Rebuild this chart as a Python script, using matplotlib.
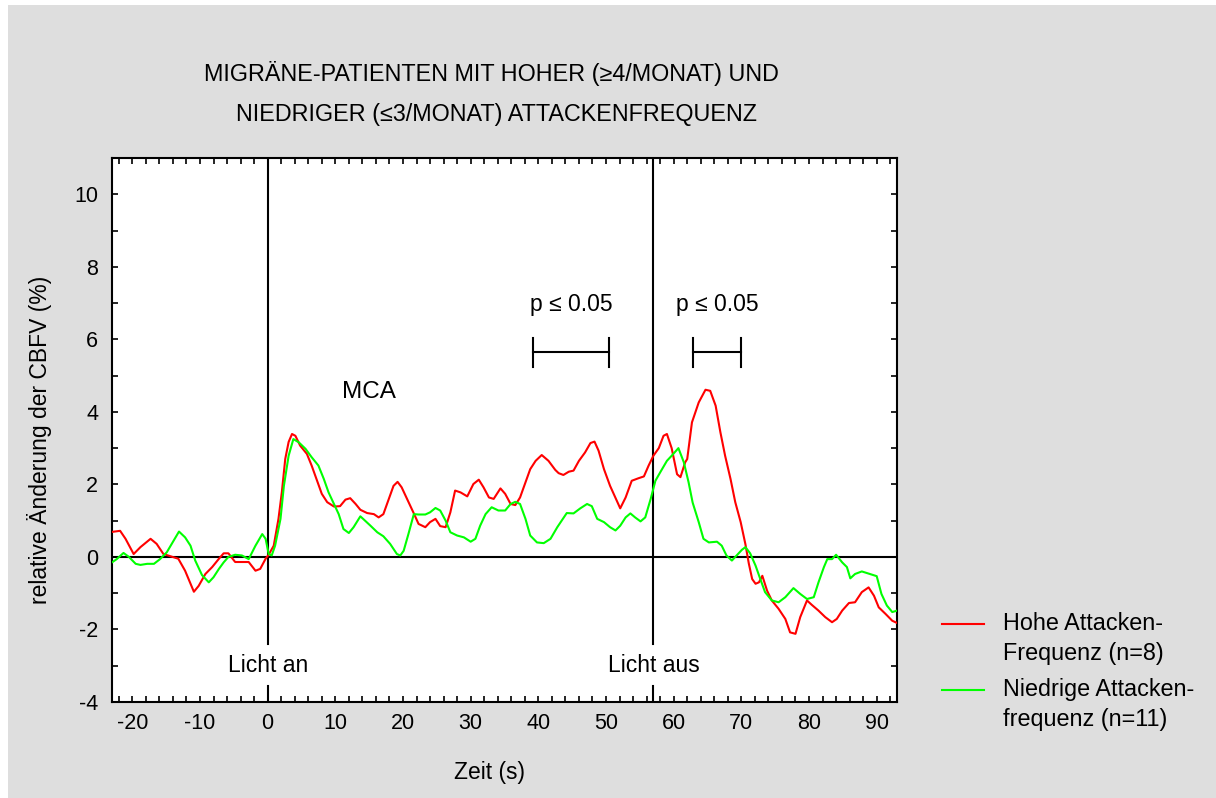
import matplotlib
matplotlib.use("Agg")
import matplotlib.pyplot as plt
from matplotlib.ticker import MultipleLocator
from matplotlib.lines import Line2D
from matplotlib.patches import Rectangle

plt.rcParams['font.family'] = ['Liberation Sans', 'DejaVu Sans']
plt.rcParams['axes.unicode_minus'] = False

# Hohe Attackenfrequenz (n=8)
red_t = [-23.0, -21.8, -21.0, -19.8, -18.8, -17.3, -16.4, -15.4, -14.4, -13.2,
         -12.2, -10.9, -10.2, -9.2, -8.2, -7.2, -6.5, -5.8, -4.8, -3.8,
         -2.8, -1.8, -1.1, -0.3, 0.15, 0.9, 1.6, 2.1, 2.6, 3.1,
         3.6, 4.1, 4.8, 5.8, 6.5, 7.3, 8.0, 8.8, 9.8, 10.7,
         11.5, 12.2, 13.0, 13.7, 14.7, 15.7, 16.4, 17.1, 17.9, 18.6,
         19.2, 19.8, 20.6, 21.6, 22.3, 23.3, 24.0, 24.8, 25.5, 26.3,
         27.0, 27.7, 28.5, 29.5, 30.4, 31.2, 31.9, 32.7, 33.4, 34.4,
         35.1, 35.9, 36.6, 37.3, 38.1, 38.8, 39.6, 40.5, 41.5, 42.5,
         43.0, 43.7, 44.5, 45.2, 46.0, 46.9, 47.7, 48.3, 48.9, 49.7,
         50.6, 51.6, 52.1, 52.9, 53.8, 54.8, 55.6, 56.3, 57.0, 57.8,
         58.5, 59.0, 59.7, 60.5, 61.0, 61.7, 62.0, 62.7, 63.7, 64.7,
         65.4, 66.2, 66.9, 67.6, 68.4, 69.1, 69.9, 70.6, 71.1, 71.6,
         72.1, 72.6, 73.1, 73.8, 74.5, 75.5, 76.5, 77.2, 78.0, 78.7,
         79.7, 80.4, 81.4, 82.4, 83.4, 84.1, 84.9, 85.9, 86.8, 87.8,
         88.8, 89.6, 90.3, 91.3, 92.3, 93.0]
red_v = [0.69, 0.72, 0.50, 0.08, 0.27, 0.50, 0.36, 0.08, 0.02, -0.05,
         -0.38, -0.96, -0.80, -0.47, -0.28, -0.05, 0.10, 0.10, -0.14, -0.14,
         -0.14, -0.38, -0.33, -0.05, 0.06, 0.31, 1.05, 1.79, 2.70, 3.17,
         3.39, 3.34, 3.07, 2.84, 2.52, 2.10, 1.74, 1.51, 1.39, 1.40,
         1.58, 1.62, 1.46, 1.30, 1.21, 1.18, 1.09, 1.18, 1.60, 1.96,
         2.07, 1.92, 1.60, 1.20, 0.91, 0.82, 0.96, 1.05, 0.85, 0.82,
         1.23, 1.83, 1.78, 1.67, 2.01, 2.13, 1.92, 1.64, 1.60, 1.89,
         1.74, 1.46, 1.43, 1.64, 2.06, 2.42, 2.65, 2.81, 2.65, 2.40,
         2.31, 2.26, 2.35, 2.38, 2.65, 2.88, 3.14, 3.18, 2.93, 2.42,
         1.96, 1.55, 1.34, 1.64, 2.10, 2.17, 2.22, 2.52, 2.79, 3.00,
         3.34, 3.39, 3.00, 2.28, 2.20, 2.61, 2.70, 3.71, 4.26, 4.61,
         4.58, 4.17, 3.44, 2.79, 2.15, 1.51, 0.96, 0.35, -0.18, -0.61,
         -0.74, -0.70, -0.52, -0.93, -1.20, -1.43, -1.71, -2.08, -2.12, -1.66,
         -1.20, -1.32, -1.48, -1.66, -1.80, -1.71, -1.48, -1.27, -1.25, -0.97,
         -0.84, -1.07, -1.39, -1.57, -1.76, -1.82]

# Niedrige Attackenfrequenz (n=11)
green_t = [-23.0, -22.3, -21.3, -20.5, -19.5, -18.8, -17.8, -16.8, -15.9, -14.9,
           -13.9, -13.1, -12.2, -11.4, -10.7, -9.7, -8.7, -8.0, -7.2, -6.5,
           -5.8, -4.8, -3.8, -2.8, -1.8, -0.8, -0.3, 0.15, 0.6, 1.1,
           1.9, 2.4, 3.1, 3.8, 4.6, 5.6, 6.5, 7.5, 8.3, 9.0,
           9.8, 10.5, 11.2, 12.0, 12.7, 13.7, 14.4, 15.2, 16.2, 17.1,
           18.1, 19.1, 19.6, 20.1, 20.8, 21.6, 22.3, 23.3, 24.0, 24.8,
           25.5, 26.3, 27.0, 28.0, 29.0, 30.0, 30.7, 31.4, 32.2, 33.1,
           34.1, 35.1, 35.9, 36.6, 37.3, 38.1, 38.8, 39.8, 40.8, 41.8,
           42.8, 43.3, 44.2, 45.2, 46.2, 47.2, 47.9, 48.7, 49.7, 50.6,
           51.4, 52.1, 52.9, 53.6, 54.3, 55.1, 55.8, 56.6, 57.3, 58.0,
           59.0, 59.7, 60.7, 61.5, 62.2, 62.8, 63.7, 64.4, 65.2, 66.4,
           67.1, 67.8, 68.6, 69.3, 70.1, 70.6, 71.3, 72.1, 72.8, 73.5,
           74.5, 75.5, 76.5, 77.7, 78.7, 79.7, 80.7, 81.4, 82.2, 82.7,
           83.4, 84.0, 84.9, 85.6, 86.1, 86.8, 87.8, 89.0, 90.0, 90.7,
           91.5, 92.3, 93.0]
green_v = [-0.15, -0.06, 0.11, 0.00, -0.19, -0.22, -0.19, -0.19, -0.06, 0.13,
           0.45, 0.70, 0.54, 0.31, -0.10, -0.50, -0.70, -0.56, -0.33, -0.15,
           0.00, 0.06, 0.04, -0.06, 0.31, 0.63, 0.50, 0.08, 0.04, 0.31,
           1.05, 1.96, 2.79, 3.25, 3.16, 2.98, 2.75, 2.52, 2.15, 1.78,
           1.46, 1.18, 0.77, 0.66, 0.82, 1.12, 1.00, 0.86, 0.68, 0.57,
           0.36, 0.08, 0.04, 0.17, 0.63, 1.18, 1.17, 1.17, 1.23, 1.35,
           1.28, 1.00, 0.68, 0.59, 0.54, 0.42, 0.50, 0.86, 1.18, 1.37,
           1.28, 1.28, 1.46, 1.52, 1.46, 1.05, 0.59, 0.40, 0.38, 0.50,
           0.82, 0.96, 1.21, 1.20, 1.34, 1.46, 1.40, 1.05, 0.96, 0.82,
           0.73, 0.86, 1.09, 1.20, 1.09, 0.98, 1.09, 1.60, 2.10, 2.33,
           2.65, 2.79, 3.00, 2.61, 2.06, 1.50, 0.96, 0.50, 0.40, 0.42,
           0.31, 0.04, -0.10, 0.04, 0.20, 0.27, 0.10, -0.24, -0.61, -0.97,
           -1.20, -1.25, -1.11, -0.86, -1.02, -1.16, -1.11, -0.70, -0.28, -0.06,
           -0.06, 0.06, -0.15, -0.28, -0.59, -0.47, -0.40, -0.47, -0.53, -1.02,
           -1.34, -1.52, -1.48]

# significance intervals (s) and their height
sig_ranges = [(39.2, 50.4), (62.9, 69.9)]
sig_level = 5.65
sig_labels = ["p \u2264 0.05", "p \u2264 0.05"]

light_on = 0
light_off = 57

fig = plt.figure(figsize=(12.16, 7.98), dpi=100, facecolor='white')
fig.add_artist(Rectangle((8 / 1216, 0), 1 - 8 / 1216, 1 - 5 / 798,
                         transform=fig.transFigure, facecolor='#dedede',
                         edgecolor='none', zorder=-10))

ax = fig.add_axes([112 / 1216, 96 / 798, 785 / 1216, 544 / 798])
ax.set_facecolor('white')

ax.axhline(0, color='black', lw=1.5, zorder=2)
# vertical markers with a gap for the text
ax.axvline(light_on, ymin=0.107, ymax=1, color='black', lw=1.5, zorder=2)
ax.axvline(light_on, ymin=0, ymax=0.03, color='black', lw=1.5, zorder=2)
ax.axvline(light_off, ymin=0.107, ymax=1, color='black', lw=1.5, zorder=2)
ax.axvline(light_off, ymin=0, ymax=0.03, color='black', lw=1.5, zorder=2)

ax.plot(red_t, red_v, color='#ff0000', lw=1.5, zorder=3)
ax.plot(green_t, green_v, color='#00ff00', lw=1.5, zorder=3)

for (a, b), lab in zip(sig_ranges, sig_labels):
    ax.plot([a, b], [sig_level, sig_level], color='black', lw=1.5)
    ax.plot([a, a], [sig_level - 0.4, sig_level + 0.4], color='black', lw=1.5)
    ax.plot([b, b], [sig_level - 0.4, sig_level + 0.4], color='black', lw=1.5)
    ax.text((a + b) / 2, sig_level + 1.3, lab, ha='center', va='center', fontsize=16.5)

ax.text(14.9, 4.55, "MCA", ha='center', va='center', fontsize=17.5)
ax.text(light_on, -2.98, "Licht an", ha='center', va='center', fontsize=16.5)
ax.text(light_off, -3.0, "Licht aus", ha='center', va='center', fontsize=16.5)

ax.set_xlim(-23, 93)
ax.set_ylim(-4, 11)
ax.set_xticks(range(-20, 100, 10))
ax.set_yticks(range(-4, 12, 2))
ax.xaxis.set_minor_locator(MultipleLocator(2))
ax.yaxis.set_minor_locator(MultipleLocator(1))
ax.tick_params(which='both', direction='in', top=True, right=True,
               length=4, width=1.2, labelsize=15.5)
ax.tick_params(axis='x', pad=8)
ax.tick_params(axis='y', pad=10)
for s in ax.spines.values():
    s.set_linewidth(1.5)

fig.text(40 / 1216, 1 - 440 / 798, "relative \u00c4nderung der CBFV (%)",
         rotation=90, ha='center', va='center', fontsize=16.5)
fig.text(490 / 1216, 1 - 773 / 798, "Zeit (s)", ha='center', va='center', fontsize=16.5)
fig.text(491 / 1216, 1 - 73 / 798, "MIGR\u00c4NE-PATIENTEN MIT HOHER (\u22654/MONAT) UND",
         ha='center', va='center', fontsize=16.8)
fig.text(496 / 1216, 1 - 114 / 798, "NIEDRIGER (\u22643/MONAT) ATTACKENFREQUENZ",
         ha='center', va='center', fontsize=16.8)

# legend
leg_items = [('#ff0000', 624, "Hohe Attacken-\nFrequenz (n=8)"),
             ('#00ff00', 690, "Niedrige Attacken-\nfrequenz (n=11)")]
for col, ypx, lab in leg_items:
    fig.add_artist(Line2D([942 / 1216, 984 / 1216], [1 - ypx / 798, 1 - ypx / 798],
                          transform=fig.transFigure, color=col, lw=1.5))
    fig.text(1003 / 1216, 1 - (ypx - 12) / 798, lab, ha='left', va='top',
             fontsize=16.8, linespacing=1.4)

fig.savefig('out.png', dpi=100, facecolor=fig.get_facecolor())
